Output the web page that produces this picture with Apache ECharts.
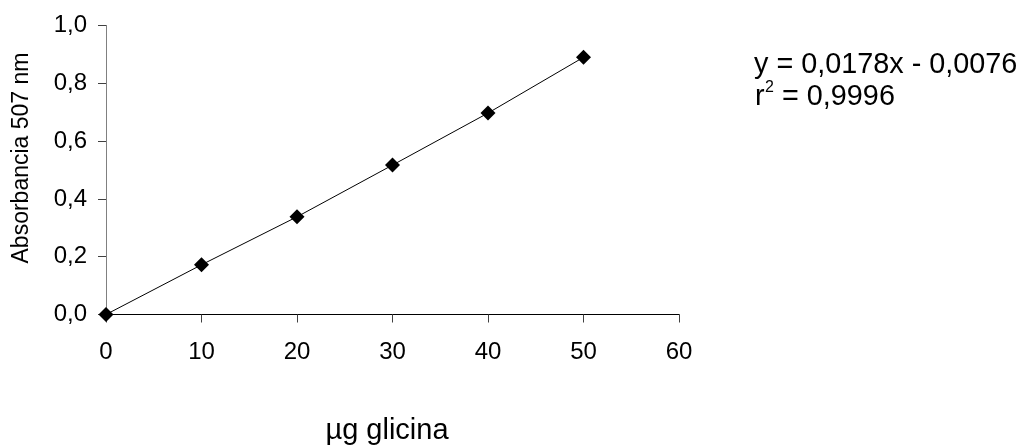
<!DOCTYPE html>
<html>
<head>
<meta charset="utf-8">
<script src="https://cdn.jsdelivr.net/npm/echarts@6/dist/echarts.min.js"></script>
<style>html,body{margin:0;padding:0;background:#fff}#c{width:1028px;height:447px}</style>
</head>
<body>
<div id="c"></div>
<script>
var xValues = [0, 10, 20, 30, 40, 50];
var absorbance = [0.0, 0.172, 0.338, 0.517, 0.697, 0.890];
var xTicks = [0, 10, 20, 30, 40, 50, 60];
var yTicks = ['0,0', '0,2', '0,4', '0,6', '0,8', '1,0'];
var xTitle = 'µg glicina';
var yTitle = 'Absorbancia 507 nm';
var equationLines = ['y = 0,0178x - 0,0076', 'r', '2', '= 0,9996'];

var chart = echarts.init(document.getElementById('c'), null, {renderer: 'canvas'});
var font = 'Liberation Sans, Arial, sans-serif';
var pts = xValues.map(function (x, i) { return [x, absorbance[i]]; });

chart.setOption({
  animation: false,
  grid: {left: 106, top: 25.5, right: 349, bottom: 132.5, show: false},
  xAxis: [{
    type: 'value', min: 0, max: 60, interval: 10,
    axisLine: {show: true, lineStyle: {color: '#404040', width: 1}},
    axisTick: {show: true, length: 8, lineStyle: {color: '#404040'}},
    axisLabel: {color: '#000', fontSize: 24, fontFamily: font, margin: 26,
      formatter: function (v) { return xTicks.indexOf(v) >= 0 ? String(v) : ''; }},
    splitLine: {show: false}
  }, {
    type: 'value', position: 'top', min: 0, max: 60,
    axisLine: {show: true, lineStyle: {color: '#000', width: 1}},
    axisTick: {show: false}, axisLabel: {show: false}, splitLine: {show: false}
  }],
  yAxis: [{
    type: 'value', min: 0, max: 1, interval: 0.2,
    axisLine: {show: true, lineStyle: {color: '#404040', width: 1}},
    axisTick: {show: true, length: 8, lineStyle: {color: '#404040'}},
    axisLabel: {color: '#000', fontSize: 24, fontFamily: font, margin: 19,
      formatter: function (v) { return yTicks[Math.round(v * 5)]; }},
    splitLine: {show: false}
  }, {
    type: 'value', position: 'right', min: 0, max: 1,
    axisLine: {show: true, lineStyle: {color: '#808080', width: 1}},
    axisTick: {show: false}, axisLabel: {show: false}, splitLine: {show: false}
  }],
  series: [{
    type: 'line', data: pts, symbol: 'diamond', symbolSize: 15,
    lineStyle: {color: '#000', width: 1},
    itemStyle: {color: '#000'},
    clip: false,
    z: 5
  }],
  graphic: [{
    type: 'text', x: 387, y: 431,
    style: {text: xTitle, fontSize: 29, fontFamily: font, fill: '#000', align: 'center', verticalAlign: 'middle'}
  }, {
    type: 'text', x: 22, y: 158, rotation: Math.PI / 2,
    style: {text: yTitle, fontSize: 23, fontFamily: font, fill: '#000', align: 'center', verticalAlign: 'middle'}
  }, {
    type: 'text', left: 754, top: 51,
    style: {text: equationLines[0], fontSize: 28.8, fontFamily: font, fill: '#000'}
  }, {
    type: 'text', left: 755, top: 83,
    style: {text: equationLines[1], fontSize: 28.8, fontFamily: font, fill: '#000'}
  }, {
    type: 'text', left: 765, top: 80,
    style: {text: equationLines[2], fontSize: 16, fontFamily: font, fill: '#000'}
  }, {
    type: 'text', left: 782, top: 83,
    style: {text: equationLines[3], fontSize: 28.8, fontFamily: font, fill: '#000'}
  }]
});
</script>
</body>
</html>
